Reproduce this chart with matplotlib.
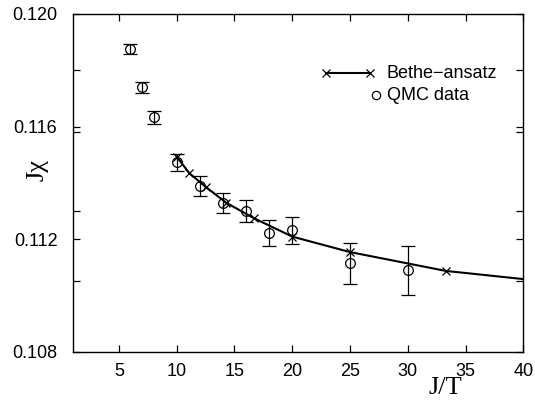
import numpy as np
import matplotlib
matplotlib.use('Agg')
from matplotlib import pyplot as plt

## QMC data (J/T, J*chi, error)
qmcX = [6, 7, 8, 10, 12, 14, 16, 18, 20, 25, 30]
qmcY = [0.11877, 0.11740, 0.11633, 0.11473, 0.11389, 0.11329, 0.11300,
        0.11221, 0.11231, 0.11115, 0.11089]
qmcErr = [0.00018, 0.00020, 0.00024, 0.00031, 0.00034, 0.00036, 0.00039,
          0.00046, 0.00049, 0.00073, 0.00086]

## Bethe-ansatz curve (markers at T/J = 0.10 ... 0.03)
betheX = [10, 11.1, 12.5, 14.3, 16.7, 20, 25, 33.3]
betheY = [0.11493, 0.11434, 0.11386, 0.11329, 0.11274, 0.11209, 0.11154, 0.11087]
# tail of the curve up to the right edge
tailX = [33.3, 40]
tailY = [0.11087, 0.11058]

xTicks = [5, 10, 15, 20, 25, 30, 35, 40]
yTicks = [0.108, 0.112, 0.116, 0.120]
yExtraTicks = [0.1105, 0.113, 0.1158, 0.118]

plt.rcParams['font.family'] = ['Liberation Sans', 'DejaVu Sans']
plt.rcParams['font.size'] = 13

fig = plt.figure(figsize=(5.35, 4.03), dpi=100)
ax = fig.add_axes([0.1359, 0.1273, 0.8422, 0.8380])

ax.plot(betheX + tailX[1:], betheY + tailY[1:], color='black', lw=1.5)
ax.plot(betheX, betheY, ls='none', marker='x', ms=6, mew=0.9, color='black')
ax.errorbar(qmcX, qmcY, yerr=qmcErr, fmt='o', mfc='none', mec='black',
            ms=7, mew=0.9, ecolor='black', elinewidth=0.9, capsize=5, capthick=0.9)

# legend drawn by hand in axes coordinates (gnuplot style)
ly1, ly2 = 0.825, 0.760
ax.plot([0.562, 0.660], [ly1, ly1], color='black', lw=1.5, marker='x', ms=6, mew=0.9,
        transform=ax.transAxes)
ax.text(0.697, ly1, 'Bethe\u2212ansatz', transform=ax.transAxes, va='center', ha='left')
ax.plot([0.673], [ly2], ls='none', marker='o', mfc='none', mec='black', ms=6,
        mew=0.9, transform=ax.transAxes)
ax.text(0.697, ly2, 'QMC data', transform=ax.transAxes, va='center', ha='left')

ax.set_xlim(1, 40)
ax.set_ylim(0.108, 0.120)
ax.set_xticks(xTicks)
ax.set_yticks(yTicks)
ax.set_yticklabels(['{0:.3f}'.format(v) for v in yTicks])
ax.set_yticks(yExtraTicks, minor=True)
ax.tick_params(which='both', direction='in', top=True, right=True,
               length=5, width=0.9, colors='black', labelsize=13)
ax.tick_params(axis='x', pad=8)
ax.tick_params(axis='y', pad=11)
for s in ax.spines.values():
    s.set_linewidth(1.0)

ax.text(-0.079, 0.538, 'J\u03c7', transform=ax.transAxes, rotation=90,
        ha='center', va='center', fontsize=19, family='Liberation Serif')
ax.text(0.826, -0.1075, 'J/T', transform=ax.transAxes, ha='center', va='center',
        fontsize=19, family='Liberation Serif')

fig.savefig('out.png', dpi=100)
